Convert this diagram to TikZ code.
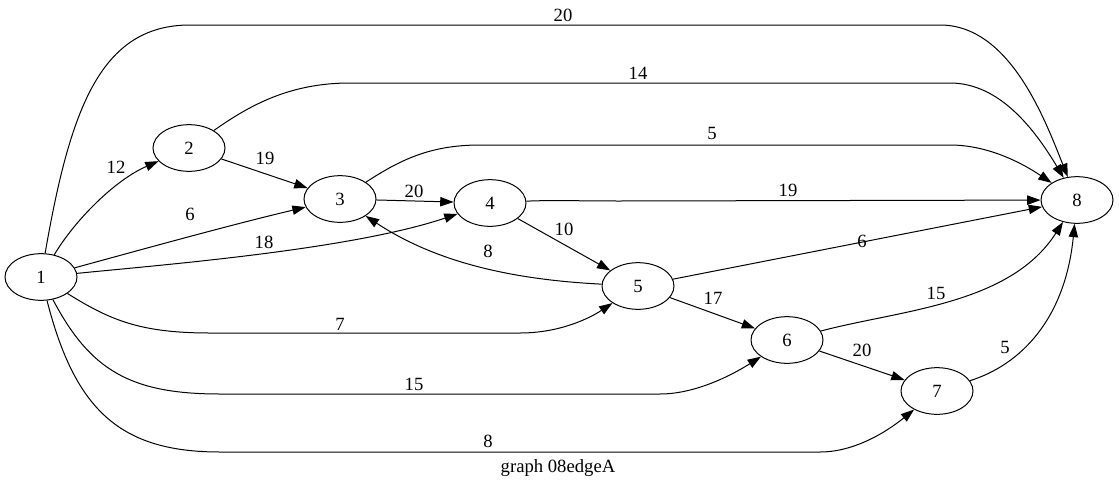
\documentclass[tikz,border=0pt]{standalone}
\usepackage{fontspec}
\setmainfont{Liberation Serif}
\usetikzlibrary{arrows.meta,shapes.geometric}
\begin{document}
\begin{tikzpicture}[x=0.75pt,y=-0.75pt,
  vertex/.style={draw,ellipse,line width=0.75pt,minimum width=54pt,minimum height=35pt,inner sep=0pt},
  edge/.style={draw,line width=0.75pt,-{Triangle[length=10pt,width=7pt]}},
  lbl/.style={inner sep=0pt},
  every node/.style={font=\fontsize{14}{16}\selectfont}]
\useasboundingbox (0,0) rectangle (1119,489);
% vertices
\node[vertex] (n1) at (41,277) {1};
\node[vertex] (n2) at (189,148) {2};
\node[vertex] (n3) at (340,199) {3};
\node[vertex] (n4) at (490,203) {4};
\node[vertex] (n5) at (638,286) {5};
\node[vertex] (n6) at (787,340) {6};
\node[vertex] (n7) at (937,391) {7};
\node[vertex] (n8) at (1077,200) {8};
% edges into 8
\draw[edge] (n1) .. controls (70,110) and (100,25) .. (190,25) -- (940,25) .. controls (1010,25) and (1045,120) .. (n8);
\draw[edge] (n2) .. controls (250,105) and (290,83) .. (350,83) -- (950,83) .. controls (1000,83) and (1035,130) .. (n8);
\draw[edge] (n3) .. controls (400,160) and (430,145) .. (480,145) -- (950,145) .. controls (990,145) and (1025,165) .. (n8);
\draw[edge] (n4) .. controls (550,200) and (580,201) .. (620,201) -- (n8);
\draw[edge] (n5) -- (n8);
\draw[edge] (n6) .. controls (900,310) and (1010,305) .. (n8);
\draw[edge] (n7) .. controls (1020,365) and (1065,320) .. (n8);
% remaining edges
\draw[edge] (n1) .. controls (75,220) and (115,180) .. (n2);
\draw[edge] (n2) -- (n3);
\draw[edge] (n1) .. controls (140,250) and (230,225) .. (n3);
\draw[edge] (n3) -- (n4);
\draw[edge] (n1) .. controls (160,265) and (350,250) .. (n4);
\draw[edge] (n4) -- (n5);
\draw[edge] (n5) .. controls (520,280) and (440,265) .. (n3);
\draw[edge] (n1) .. controls (110,320) and (140,333) .. (210,333) -- (520,333) .. controls (560,333) and (590,318) .. (n5);
\draw[edge] (n5) -- (n6);
\draw[edge] (n1) .. controls (90,370) and (130,394) .. (220,394) -- (660,394) .. controls (700,394) and (740,370) .. (n6);
\draw[edge] (n6) -- (n7);
\draw[edge] (n1) .. controls (75,410) and (120,452) .. (220,452) -- (820,452) .. controls (860,452) and (895,425) .. (n7);
% edge labels
\node[lbl] (l18) at (563,15) {20};
\node[lbl] (l28) at (638,73) {14};
\node[lbl] (l38) at (712,133) {5};
\node[lbl] (l48) at (788,190) {19};
\node[lbl] (l58) at (862,241) {6};
\node[lbl] (l68) at (936,293) {15};
\node[lbl] (l78) at (1005,347) {5};
\node[lbl] (l12) at (116,167) {12};
\node[lbl] (l23) at (265,158) {19};
\node[lbl] (l13) at (190,214) {6};
\node[lbl] (l34) at (414,191) {20};
\node[lbl] (l14) at (264,242) {18};
\node[lbl] (l45) at (564,229) {10};
\node[lbl] (l53) at (488,251) {8};
\node[lbl] (l15) at (340,324) {7};
\node[lbl] (l56) at (713,298) {17};
\node[lbl] (l16) at (414,384) {15};
\node[lbl] (l67) at (862,350) {20};
\node[lbl] (l17) at (488,441) {8};
% caption
\node[lbl] (cap) at (558,468) {graph 08edgeA};
\end{tikzpicture}
\end{document}
